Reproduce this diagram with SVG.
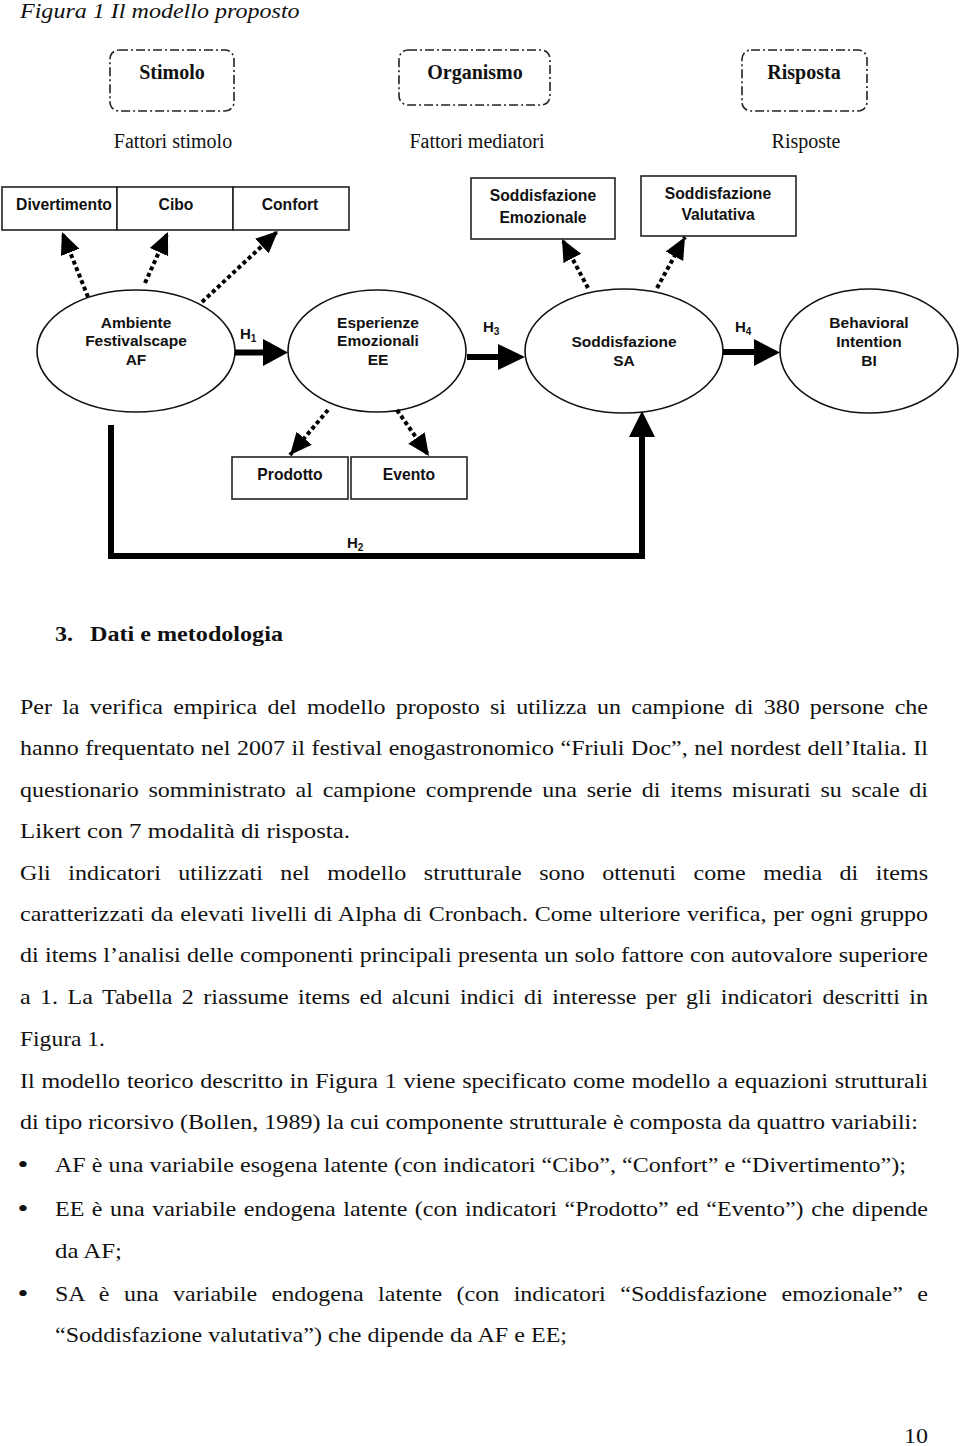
<svg xmlns="http://www.w3.org/2000/svg" width="960" height="1446" viewBox="0 0 960 1446">
<style>
.bg{fill:#fff}
.dd{fill:none;stroke:#222;stroke-width:1.6;stroke-dasharray:9 3 2 3}
.box{fill:#fff;stroke:#222;stroke-width:1.6}
.ell{fill:#fff;stroke:#111;stroke-width:1.6}
.ser{font-family:"Liberation Serif","Times New Roman",serif;fill:#111}
.sans{font-family:"Liberation Sans",Arial,sans-serif;font-weight:bold;fill:#111}
.dot{fill:none;stroke:#000;stroke-width:4;stroke-dasharray:4 3}
.thick{fill:none;stroke:#000;stroke-width:6}
.head{fill:#000}
.bul{font-size:26px}
</style>
<defs>
<marker id="ah" markerUnits="userSpaceOnUse" markerWidth="24" markerHeight="22" refX="22" refY="10" orient="auto">
<path d="M0,0 L22,10 L0,20 z" fill="#000"/>
</marker>
</defs>
<rect class="bg" x="0" y="0" width="960" height="1446"/>

<g class="ser">
<text x="16.67" y="18" font-size="20" font-style="italic" transform="scale(1.2,1)" textLength="233" lengthAdjust="spacingAndGlyphs">Figura 1 Il modello proposto</text>
</g>

<g id="stimolo">
<rect class="dd" x="110" y="50" width="124" height="61" rx="9"/>
<text class="ser" x="172" y="79" font-size="20" font-weight="bold" text-anchor="middle">Stimolo</text>
</g>
<g id="organismo">
<rect class="dd" x="399" y="50" width="151" height="55" rx="9"/>
<text class="ser" x="475" y="79" font-size="20" font-weight="bold" text-anchor="middle">Organismo</text>
</g>
<g id="risposta">
<rect class="dd" x="742" y="50" width="125" height="61" rx="9"/>
<text class="ser" x="804" y="79" font-size="20" font-weight="bold" text-anchor="middle">Risposta</text>
</g>

<g class="ser" font-size="20" text-anchor="middle">
<text x="173" y="148">Fattori stimolo</text>
<text x="477" y="148">Fattori mediatori</text>
<text x="806" y="148">Risposte</text>
</g>

<g id="divertimento">
<rect class="box" x="2" y="187" width="115" height="43"/>
<text class="sans" x="64" y="210" font-size="15.7" text-anchor="middle">Divertimento</text>
</g>
<g id="cibo">
<rect class="box" x="117" y="187" width="116" height="43"/>
<text class="sans" x="176" y="210" font-size="15.7" text-anchor="middle">Cibo</text>
</g>
<g id="confort">
<rect class="box" x="233" y="187" width="116" height="43"/>
<text class="sans" x="290" y="210" font-size="15.7" text-anchor="middle">Confort</text>
</g>
<g id="sodd-emozionale">
<rect class="box" x="471" y="178" width="144" height="61"/>
<text class="sans" x="543" y="201" font-size="15.7" text-anchor="middle">Soddisfazione</text>
<text class="sans" x="543" y="223" font-size="15.7" text-anchor="middle">Emozionale</text>
</g>
<g id="sodd-valutativa">
<rect class="box" x="641" y="176" width="155" height="60"/>
<text class="sans" x="718" y="199" font-size="15.7" text-anchor="middle">Soddisfazione</text>
<text class="sans" x="718" y="220" font-size="15.7" text-anchor="middle">Valutativa</text>
</g>

<g id="af">
<ellipse class="ell" cx="136" cy="351" rx="99" ry="61"/>
<text class="sans" x="136" y="328" font-size="15.5" text-anchor="middle">Ambiente</text>
<text class="sans" x="136" y="346" font-size="15.5" text-anchor="middle">Festivalscape</text>
<text class="sans" x="136" y="365" font-size="15.5" text-anchor="middle">AF</text>
</g>
<g id="ee">
<ellipse class="ell" cx="377" cy="351" rx="89" ry="61"/>
<text class="sans" x="378" y="328" font-size="15.5" text-anchor="middle">Esperienze</text>
<text class="sans" x="378" y="346" font-size="15.5" text-anchor="middle">Emozionali</text>
<text class="sans" x="378" y="365" font-size="15.5" text-anchor="middle">EE</text>
</g>
<g id="sa">
<ellipse class="ell" cx="624" cy="351" rx="99" ry="62"/>
<text class="sans" x="624" y="347" font-size="15.5" text-anchor="middle">Soddisfazione</text>
<text class="sans" x="624" y="366" font-size="15.5" text-anchor="middle">SA</text>
</g>
<g id="bi">
<ellipse class="ell" cx="869" cy="351" rx="89" ry="62"/>
<text class="sans" x="869" y="328" font-size="15.5" text-anchor="middle">Behavioral</text>
<text class="sans" x="869" y="347" font-size="15.5" text-anchor="middle">Intention</text>
<text class="sans" x="869" y="366" font-size="15.5" text-anchor="middle">BI</text>
</g>

<g id="prodotto">
<rect class="box" x="232" y="457" width="116" height="42"/>
<text class="sans" x="290" y="480" font-size="15.7" text-anchor="middle">Prodotto</text>
</g>
<g id="evento">
<rect class="box" x="351" y="457" width="116" height="42"/>
<text class="sans" x="409" y="480" font-size="15.7" text-anchor="middle">Evento</text>
</g>

<g id="connectors">
<line class="dot" x1="88" y1="297" x2="62" y2="232" marker-end="url(#ah)"/>
<line class="dot" x1="145" y1="283" x2="168" y2="232" marker-end="url(#ah)"/>
<line class="dot" x1="202" y1="302" x2="278" y2="231" marker-end="url(#ah)"/>
<line class="dot" x1="588" y1="288" x2="562" y2="239" marker-end="url(#ah)"/>
<line class="dot" x1="657" y1="288" x2="685" y2="237" marker-end="url(#ah)"/>
<line class="dot" x1="328" y1="410" x2="290" y2="455" marker-end="url(#ah)"/>
<line class="dot" x1="397" y1="410" x2="429" y2="456" marker-end="url(#ah)"/>

<line class="thick" x1="235" y1="352.5" x2="265" y2="352.5"/>
<path class="head" d="M263,339 L288,352.5 L263,366 z"/>
<line class="thick" x1="467" y1="357" x2="500" y2="357"/>
<path class="head" d="M498,344 L525,357 L498,370 z"/>
<line class="thick" x1="723" y1="352" x2="756" y2="352"/>
<path class="head" d="M754,339 L780,352.5 L754,366 z"/>

<path class="thick" d="M111,425 L111,556 L642,556 L642,435" stroke-linejoin="miter"/>
<path class="head" d="M629,437 L642,411 L655,437 z"/>

<g class="sans">
<text x="240" y="339" font-size="15">H<tspan font-size="10" dy="3">1</tspan></text>
<text x="483" y="332" font-size="15">H<tspan font-size="10" dy="3">3</tspan></text>
<text x="735" y="332" font-size="15">H<tspan font-size="10" dy="3">4</tspan></text>
<text x="347" y="548" font-size="15">H<tspan font-size="10" dy="3">2</tspan></text>
</g>
</g>

<g class="ser" font-size="20" transform="scale(1.2,1)">
<text x="45.83" y="641" font-weight="bold">3.</text>
<text x="75" y="641" font-weight="bold" textLength="160.8" lengthAdjust="spacingAndGlyphs">Dati e metodologia</text>
<text x="16.67" y="714" word-spacing="3.5" textLength="756.67" lengthAdjust="spacing">Per la verifica empirica del modello proposto si utilizza un campione di 380 persone che</text>
<text x="16.67" y="755" word-spacing="0.47" textLength="756.67" lengthAdjust="spacing">hanno frequentato nel 2007 il festival enogastronomico “Friuli Doc”, nel nordest dell’Italia. Il</text>
<text x="16.67" y="797" word-spacing="3.15" textLength="756.67" lengthAdjust="spacing">questionario somministrato al campione comprende una serie di items misurati su scale di</text>
<text x="16.67" y="838" textLength="275" lengthAdjust="spacingAndGlyphs">Likert con 7 modalità di risposta.</text>
<text x="16.67" y="880" word-spacing="9.48" textLength="756.67" lengthAdjust="spacing">Gli indicatori utilizzati nel modello strutturale sono ottenuti come media di items</text>
<text x="16.67" y="921" word-spacing="0.57" textLength="756.67" lengthAdjust="spacing">caratterizzati da elevati livelli di Alpha di Cronbach. Come ulteriore verifica, per ogni gruppo</text>
<text x="16.67" y="962" word-spacing="0.29" textLength="756.67" lengthAdjust="spacing">di items l’analisi delle componenti principali presenta un solo fattore con autovalore superiore</text>
<text x="16.67" y="1004" word-spacing="2.82" textLength="756.67" lengthAdjust="spacing">a 1. La Tabella 2 riassume items ed alcuni indici di interesse per gli indicatori descritti in</text>
<text x="16.67" y="1046" textLength="70.8" lengthAdjust="spacingAndGlyphs">Figura 1.</text>
<text x="16.67" y="1088" word-spacing="0.65" textLength="756.67" lengthAdjust="spacing">Il modello teorico descritto in Figura 1 viene specificato come modello a equazioni strutturali</text>
<text x="16.67" y="1129" textLength="748.3" lengthAdjust="spacing">di tipo ricorsivo (Bollen, 1989) la cui componente strutturale è composta da quattro variabili:</text>
<text class="bul" x="14.6" y="1173">•</text>
<text x="45.83" y="1172" textLength="709.2" lengthAdjust="spacing">AF è una variabile esogena latente (con indicatori “Cibo”, “Confort” e “Divertimento”);</text>
<text class="bul" x="14.6" y="1217">•</text>
<text x="45.83" y="1216" word-spacing="1.29" textLength="727.5" lengthAdjust="spacing">EE è una variabile endogena latente (con indicatori “Prodotto” ed “Evento”) che dipende</text>
<text x="45.83" y="1258" textLength="55.8" lengthAdjust="spacingAndGlyphs">da AF;</text>
<text class="bul" x="14.6" y="1302">•</text>
<text x="45.83" y="1301" word-spacing="7.0" textLength="727.5" lengthAdjust="spacing">SA è una variabile endogena latente (con indicatori “Soddisfazione emozionale” e</text>
<text x="45.83" y="1342" textLength="426.7" lengthAdjust="spacing">“Soddisfazione valutativa”) che dipende da AF e EE;</text>
<text x="773.33" y="1443" text-anchor="end">10</text>
</g>
</svg>
